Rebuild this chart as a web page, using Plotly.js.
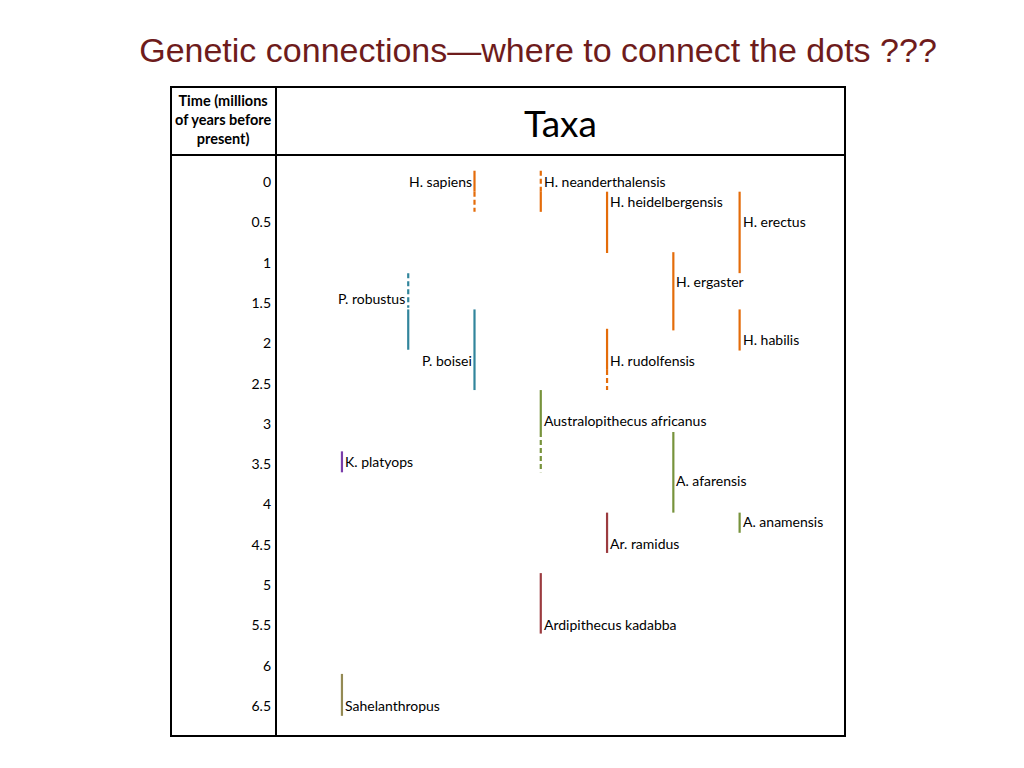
<!DOCTYPE html>
<html>
<head>
<meta charset="utf-8">
<script src="https://cdn.plot.ly/plotly-3.0.1.min.js"></script>
<style>html,body{margin:0;padding:0;background:#fff;}#chart{width:1024px;height:768px;}</style>
</head>
<body>
<div id="chart"></div>
<script>
// ---- data ----
const taxa = ["H. sapiens","H. neanderthalensis","H. heidelbergensis","H. erectus","H. ergaster","H. habilis","H. rudolfensis","P. robustus","P. boisei","Australopithecus africanus","K. platyops","A. afarensis","A. anamensis","Ar. ramidus","Ardipithecus kadabba","Sahelanthropus"];
const column = [3,4,5,7,6,7,5,2,3,4,1,6,7,5,4,1];
const lineage = ["Homo","Homo","Homo","Homo","Homo","Homo","Homo","Paranthropus","Paranthropus","Australopithecus","Kenyanthropus","Australopithecus","Australopithecus","Ardipithecus","Ardipithecus","Sahelanthropus"];
const labelTime = [0,0,0.25,0.5,1.25,1.96,2.22,1.46,2.22,2.97,3.48,3.72,4.22,4.49,5.5,6.5];
const labelSide = ["left","right","right","right","right","right","right","left","left","right","right","right","right","right","right","right"];

// record segments (million years before present)
const segTaxon = ["H. sapiens","H. sapiens","H. neanderthalensis","H. neanderthalensis","H. heidelbergensis","H. erectus","H. ergaster","H. habilis","H. rudolfensis","H. rudolfensis","P. robustus","P. robustus","P. boisei","Australopithecus africanus","Australopithecus africanus","K. platyops","A. afarensis","A. anamensis","Ar. ramidus","Ardipithecus kadabba","Sahelanthropus"];
const segFrom = [-0.14,0.12,-0.14,0.12,0.12,0.12,0.87,1.58,1.82,2.33,1.13,1.58,1.58,2.58,3.1,3.34,3.1,4.1,4.1,4.85,6.1];
const segTo   = [0.12,0.37,0.12,0.37,0.88,1.13,1.84,2.09,2.33,2.58,1.56,2.08,2.58,3.1,3.6,3.6,4.1,4.35,4.6,5.6,6.62];
const segCertain = [true,false,false,true,true,true,true,true,true,false,false,true,true,true,false,true,true,true,true,true,true];

const timeTicks = [0,0.5,1,1.5,2,2.5,3,3.5,4,4.5,5,5.5,6,6.5];
const timeTickText = ["0","0.5","1","1.5","2","2.5","3","3.5","4","4.5","5","5.5","6","6.5"];

// ---- styles ----
const lineageColor = {
  "Homo":"#E46C0A",
  "Paranthropus":"#31859C",
  "Australopithecus":"#77933C",
  "Kenyanthropus":"#7A3DAA",
  "Ardipithecus":"#9B3B3F",
  "Sahelanthropus":"#948A54"
};
const FONT = "Lato, 'Open Sans', sans-serif";

const traces = [];
segTaxon.forEach((t,i)=>{
  const k = taxa.indexOf(t);
  traces.push({
    type:"scatter", mode:"lines",
    x:[column[k],column[k]], y:[segFrom[i],segTo[i]],
    line:{color:lineageColor[lineage[k]], width:2.2, dash: segCertain[i] ? "solid" : "5px,3px"},
    hoverinfo:"skip", showlegend:false
  });
});

const annotations = taxa.map((t,k)=>({
  x:column[k], y:labelTime[k], xref:"x", yref:"y",
  text:t, showarrow:false,
  xanchor: labelSide[k]==="left" ? "right" : "left",
  xshift: labelSide[k]==="left" ? -1 : 1,
  yshift: 1,
  yanchor:"middle",
  font:{family:FONT, size:14, color:"#000"}
}));

// header texts
const W=1024,H=768,L=276,R=845,T=155,B=736;
const px = v => (v-L)/(R-L);
const py = v => (B-v)/(B-T);
annotations.push({
  xref:"paper", yref:"paper", x:px(560), y:py(122), text:"Taxa", showarrow:false,
  xanchor:"center", yanchor:"middle", font:{family:FONT, size:37, color:"#000"}
});
annotations.push({
  xref:"paper", yref:"paper", x:px(223), y:py(120), showarrow:false,
  text:"<b>Time (millions<br>of years before<br>present)</b>",
  xanchor:"center", yanchor:"middle", align:"center",
  font:{family:FONT, size:14.5, color:"#000"}
});

const lineStyle = {color:"#000", width:2};
const shapes = [
  {type:"rect", xref:"paper", yref:"paper", x0:px(171), x1:px(845), y0:py(736), y1:py(87), line:lineStyle, fillcolor:"rgba(0,0,0,0)"},
  {type:"line", xref:"paper", yref:"paper", x0:px(276), x1:px(276), y0:py(736), y1:py(87), line:lineStyle},
  {type:"line", xref:"paper", yref:"paper", x0:px(171), x1:px(845), y0:py(155), y1:py(155), line:lineStyle}
];

const layout = {
  width:W, height:H,
  margin:{l:L, r:W-R, t:T, b:H-B, pad:0},
  paper_bgcolor:"#fff", plot_bgcolor:"#fff",
  title:{text:"Genetic connections—where to connect the dots ???", x:538/W, xanchor:"center", y:1-50/H, yanchor:"middle",
         font:{family:"'Liberation Sans', Arial, sans-serif", size:34, color:"#6E1C1C"}},
  xaxis:{range:[0.005,8.59], showgrid:false, zeroline:false, showticklabels:false, ticks:"", showline:false, fixedrange:true},
  yaxis:{range:[6.87,-0.335], tickvals:timeTicks, ticktext:timeTickText, showgrid:false, zeroline:false,
         ticks:"", ticklen:0, ticklabelstandoff:4, showline:false, tickfont:{family:FONT, size:14, color:"#000"}, fixedrange:true},
  shapes:shapes, annotations:annotations, showlegend:false
};

Plotly.newPlot("chart", traces, layout, {displayModeBar:false, staticPlot:true});
</script>
</body>
</html>
